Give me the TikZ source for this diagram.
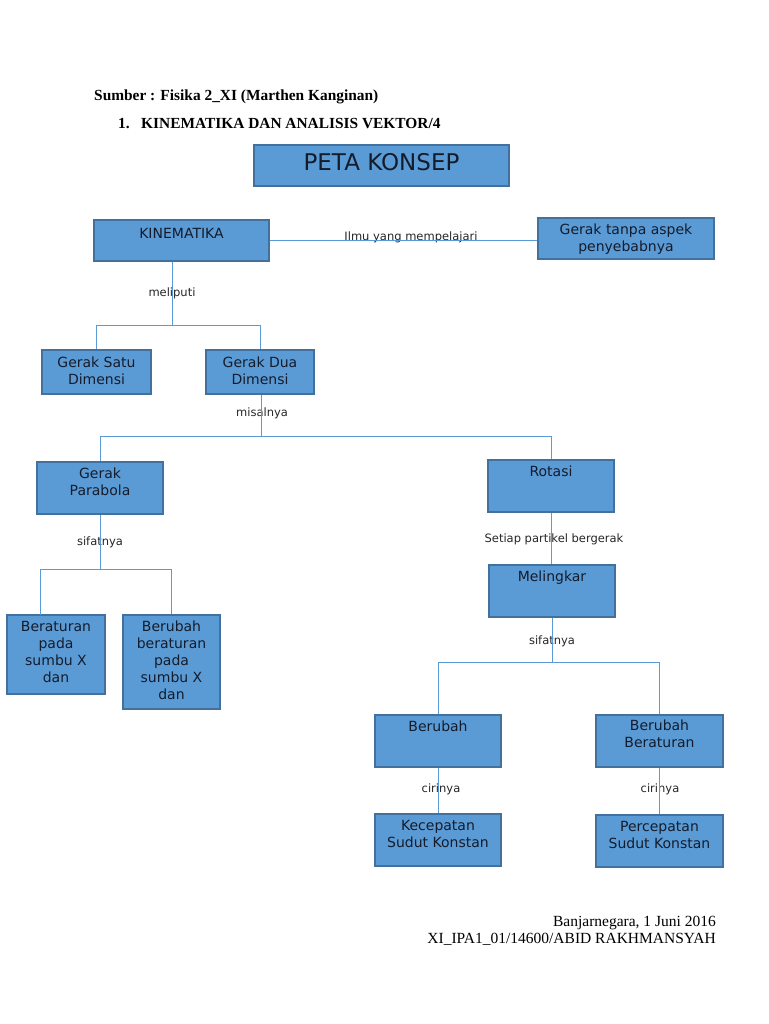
\documentclass[tikz,border=0pt]{standalone}
\usepackage{fontspec}
\setmainfont{Liberation Serif}
\newfontfamily\dvs{DejaVu Sans}
\definecolor{boxfill}{HTML}{5B9BD5}
\definecolor{boxline}{HTML}{41719C}
\definecolor{conn}{HTML}{5B9BD5}
\definecolor{txt}{HTML}{141C2C}
\begin{document}
\begin{tikzpicture}[x=1pt,y=-1pt,
  box/.style={draw=boxline,fill=boxfill,line width=1.2pt,inner sep=0},
  btext/.style={anchor=north,inner sep=0,align=center,text=txt,font=\dvs\fontsize{14}{17}\selectfont},
  lbl/.style={inner sep=0,text=black!85,font=\dvs\fontsize{11.5}{13}\selectfont},
  conn/.style={draw=conn,line width=1pt},
  head/.style={anchor=base west,inner sep=0,font=\bfseries\fontsize{15.4}{17}\selectfont},
  foot/.style={anchor=base east,inner sep=0,font=\fontsize{15.5}{17}\selectfont}]
\useasboundingbox (0,0) rectangle (768,1024);
\fill[white] (0,0) rectangle (768,1024);

% header
\node[head] (src) at (94,101) {Sumber : Fisika 2\_XI (Marthen Kanginan)};
\node[head] (num) at (118,129) {1.};
\node[head] (ttl) at (141,129) {KINEMATIKA DAN ANALISIS VEKTOR/4};

% boxes
\draw[box] (254,145) rectangle (509,186);
\node[anchor=north,inner sep=0,text=txt,font=\dvs\fontsize{23}{26}\selectfont] (peta) at (381.5,153) {PETA KONSEP};

\node[box,minimum width=175pt,minimum height=41pt] (kin) at (181.5,240.5) {};
\node[btext] (kint) at (181.5,228) {KINEMATIKA};

\node[box,minimum width=176pt,minimum height=41pt] (gtp) at (626,238.5) {};
\node[btext] (gtpt) at (626,224) {Gerak tanpa aspek\\penyebabnya};

\node[box,minimum width=109pt,minimum height=44pt] (g1) at (96.5,372) {};
\node[btext] (g1t) at (96.5,357) {Gerak Satu\\Dimensi};

\node[box,minimum width=108pt,minimum height=44pt] (g2) at (260,372) {};
\node[btext] (g2t) at (260,357) {Gerak Dua\\Dimensi};

\node[box,minimum width=126pt,minimum height=52pt] (gp) at (100,488) {};
\node[btext] (gpt) at (100,468) {Gerak\\Parabola};

\node[box,minimum width=126pt,minimum height=52pt] (rot) at (551,486) {};
\node[btext] (rott) at (551,466) {Rotasi};

\node[box,minimum width=98pt,minimum height=79pt] (ber) at (56,654.5) {};
\node[btext] (bert) at (56,621) {Beraturan\\pada\\sumbu X\\dan};

\node[box,minimum width=97pt,minimum height=94pt] (bbr) at (171.5,662) {};
\node[btext] (bbrt) at (171.5,621) {Berubah\\beraturan\\pada\\sumbu X\\dan};

\node[box,minimum width=126pt,minimum height=52pt] (mel) at (552,591) {};
\node[btext] (melt) at (552,571) {Melingkar};

\node[box,minimum width=126pt,minimum height=52pt] (brb) at (438,741) {};
\node[btext] (brbt) at (438,721) {Berubah};

\node[box,minimum width=127pt,minimum height=52pt] (brr) at (659.5,741) {};
\node[btext] (brrt) at (659.5,720) {Berubah\\Beraturan};

\node[box,minimum width=126pt,minimum height=52pt] (kec) at (438,840) {};
\node[btext] (kect) at (438,820) {Kecepatan\\Sudut Konstan};

\node[box,minimum width=127pt,minimum height=52pt] (per) at (659.5,841) {};
\node[btext] (pert) at (659.5,821) {Percepatan\\Sudut Konstan};

% labels
\node[lbl] (l1) at (411,237) {Ilmu yang mempelajari};
\node[lbl] (l2) at (172,293) {meliputi};
\node[lbl] (l3) at (262,413) {misalnya};
\node[lbl] (l4) at (100,542) {sifatnya};
\node[lbl] (l5) at (554,539) {Setiap partikel bergerak};
\node[lbl] (l6) at (552,641) {sifatnya};
\node[lbl] (l7) at (441,789) {cirinya};
\node[lbl] (l8) at (660,789) {cirinya};

% connectors
\coordinate (j1) at (172,325);
\coordinate (j2) at (261,436);
\coordinate (j3) at (100,569);
\coordinate (j4) at (552,662);

\draw[conn] (kin.east) -- (gtp.west |- kin.east);
\draw[conn] (kin.south -| j1) -- (j1);
\draw[conn] (g1.north) -- (g1.north |- j1) -- (g2.north |- j1) -- (g2.north);
\draw[conn] (g2.south -| j2) -- (j2);
\draw[conn] (gp.north) -- (gp.north |- j2) -- (rot.north |- j2) -- (rot.north);
\draw[conn] (gp.south) -- (j3);
\draw[conn] (40,615) coordinate (b1) -- (b1 |- j3) -- (bbr.north |- j3) -- (bbr.north);
\draw[conn] (rot.south) -- (rot.south |- mel.north);
\draw[conn] (mel.south) -- (j4);
\draw[conn] (brb.north) -- (brb.north |- j4) -- (brr.north |- j4) -- (brr.north);
\draw[conn] (brb.south) -- (kec.north);
\draw[conn] (brr.south) -- (per.north);

% footer
\node[foot] (f1) at (716,926) {Banjarnegara, 1 Juni 2016};
\node[foot] (f2) at (716,943) {XI\_IPA1\_01/14600/ABID RAKHMANSYAH};
\end{tikzpicture}
\end{document}
